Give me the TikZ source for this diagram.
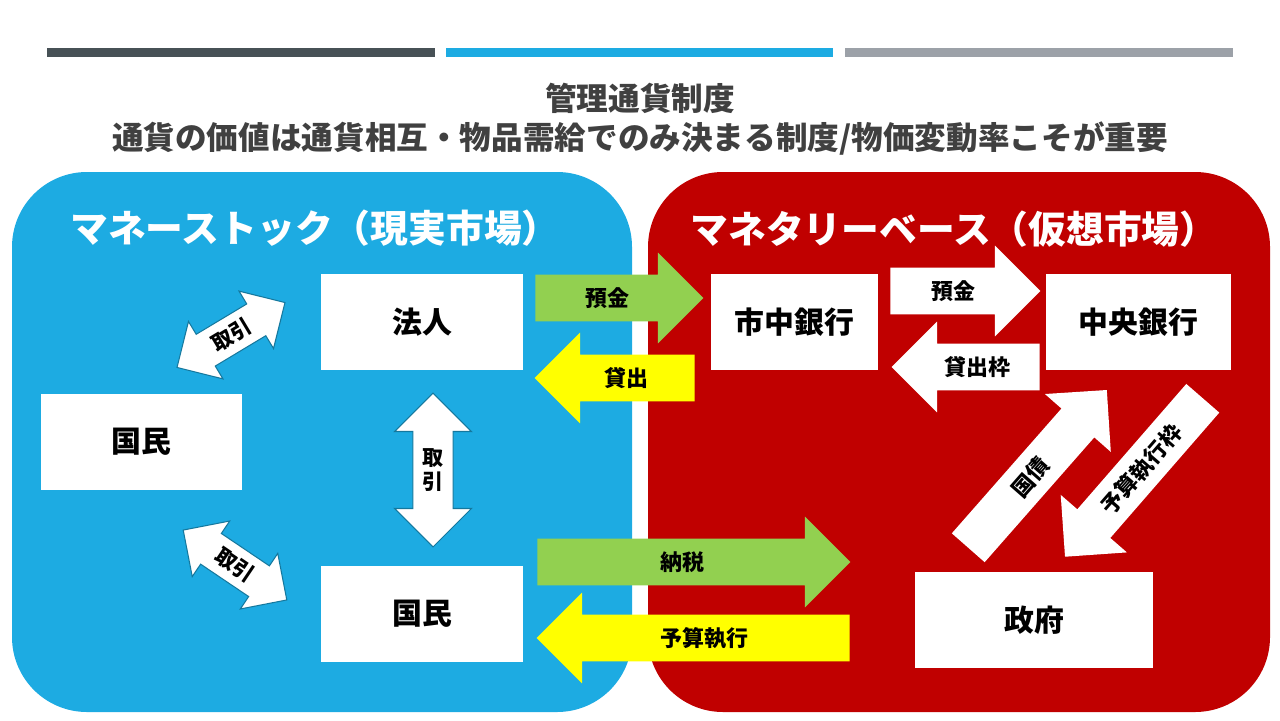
\documentclass[tikz,border=0pt]{standalone}
\usepackage{fontspec}
\setmainfont{Noto Sans CJK JP}
\usepackage{tikz}
\usetikzlibrary{shapes.arrows, positioning}
\definecolor{bardark}{RGB}{71,81,86}
\definecolor{mblue}{RGB}{29,171,226}
\definecolor{bargray}{RGB}{156,161,168}
\definecolor{mred}{RGB}{192,0,0}
\definecolor{mgreen}{RGB}{146,208,80}
\definecolor{myellow}{RGB}{255,255,0}
\definecolor{titlegray}{RGB}{64,64,64}

\begin{document}
\begin{tikzpicture}[
      x=0.02cm, y=-0.02cm,
      entity/.style={fill=white, minimum width=4.04cm, minimum height=1.92cm,
                     inner sep=0pt, font=\fontsize{17}{20}\selectfont\bfseries},
      flow/.style={single arrow, single arrow tip angle=90,
                   single arrow head extend=0.44cm, inner xsep=4pt, inner ysep=0pt,
                   text height=0.63cm, text depth=0.29cm,
                   font=\fontsize{12.5}{14}\selectfont\bfseries},
      slant/.style={flow, fill=white, minimum height=4.2cm,
                    text height=0.60cm, text depth=0.26cm},
      trade/.style={double arrow, double arrow tip angle=90, fill=white,
                    draw=mblue!70!black, line width=0.6pt,
                    double arrow head extend=0.3cm, inner xsep=2pt, inner ysep=0pt,
                    text height=0.52cm, text depth=0.20cm,
                    font=\fontsize{12}{14}\selectfont\bfseries},
      paneltitle/.style={text=white, font=\fontsize{21.5}{24}\selectfont\bfseries},
    ]
    \useasboundingbox (0,0) rectangle (1280,720);

    % top bars
    \fill[bardark] (47,48) rectangle (435,57);
    \fill[mblue]   (446,48) rectangle (833,57);
    \fill[bargray] (845,48) rectangle (1233,57);

    \node[font=\fontsize{18}{22}\selectfont\bfseries, text=titlegray, align=center]
      (title) at (640,119) {管理通貨制度\\通貨の価値は通貨相互・物品需給でのみ決まる制度/物価変動率こそが重要};

    % markets
    \fill[mblue, rounded corners=1.5cm] (12,172) rectangle (632,712);
    \fill[mred, rounded corners=1.5cm] (648,172) rectangle (1270,712);
    \node[paneltitle] (stock) at (315,228) {マネーストック（現実市場）};
    \node[paneltitle] (base)  at (954,229) {マネタリーベース（仮想市場）};

    % actors
    \node[entity] (hojin)   at (422,322)   {法人};
    \node[entity] (kokumin) at (141.5,442) {国民};
    \node[entity] (citizen) at (422,613.5) {国民};
    \node[entity, minimum width=3.34cm] (bank)    at (794.5,322) {市中銀行};
    \node[entity, minimum width=3.7cm]  (central) at (1138.5,322) {中央銀行};
    \node[entity, minimum width=4.76cm] (gov)     at (1034,620) {政府};

    % flows between the markets
    \node[flow, fill=mgreen, minimum height=3.36cm, anchor=tail] (depo) at (535,298) {預金};
    \node[flow, fill=myellow, minimum height=3.2cm, shape border rotate=180, anchor=tail] (loan) at (695,378) {貸出};
    \node[flow, fill=mgreen, minimum height=6.26cm, anchor=tail] (tax) at (537,562) {納税};
    \node[flow, fill=myellow, minimum height=6.26cm, shape border rotate=180, anchor=tail] (budget) at (850,638) {予算執行};

    % flows inside the base
    \node[flow, fill=white, minimum height=3.0cm, anchor=tail] (cdepo) at (890,291) {預金};
    \node[flow, fill=white, minimum height=2.96cm, shape border rotate=180, anchor=tail] (cloan) at (1040,367) {貸出枠};
    \node[slant, rotate=48.7, anchor=tail] (bond) at (968,548) {国債};
    \node[slant, rotate=49, shape border rotate=180, anchor=tail] (frame) at (1203,398) {予算執行枠};

    % trades
    \node[trade, rotate=31, minimum height=2.52cm, minimum width=1.32cm] (tradeA) at (231,335) {取引};
    \node[trade, rotate=-34, minimum height=2.5cm, minimum width=1.32cm] (tradeB) at (235,565) {取引};
    \node[trade, shape border rotate=90, minimum height=3.08cm, minimum width=1.54cm,
          align=center, text height=, text depth=, inner sep=3pt] (tradeC) at (433,470) {取\\引};
  \end{tikzpicture}
\end{document}
